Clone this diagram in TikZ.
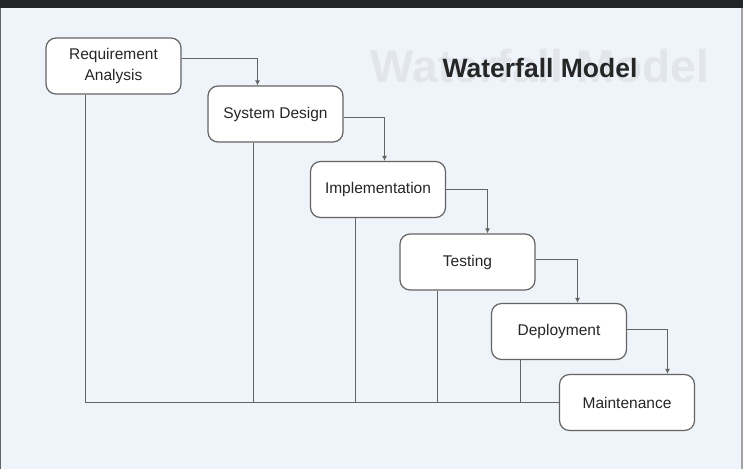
\documentclass[tikz,border=0pt]{standalone}
\usepackage{fontspec}
\setmainfont{Liberation Sans}
\usetikzlibrary{arrows.meta}
\pgfdeclarelayer{bg}
\pgfsetlayers{bg,main}
\definecolor{paper}{HTML}{EFF4FA}
\definecolor{edge}{HTML}{646464}
\definecolor{ink}{HTML}{262626}
\definecolor{ghost}{HTML}{E2E5E9}
\definecolor{topbar}{HTML}{232427}
\tikzset{
  phase/.style={draw=edge, fill=white, rounded corners=10pt, line width=1.2pt,
    minimum width=135pt, minimum height=56pt, align=center, text=ink,
    font=\fontsize{15.5}{21}\selectfont},
  flow/.style={draw=edge, line width=1.1pt, -{Latex[length=5pt,width=5pt]}},
  back/.style={draw=edge, line width=1.1pt},
}

\begin{document}
\begin{tikzpicture}[x=1pt,y=-1pt]
    \useasboundingbox (0,0) rectangle (743,469);
    \begin{pgfonlayer}{bg}    % page and frame
      \fill[paper] (0,0) rectangle (743,469);
      \fill[topbar] (0,0) rectangle (743,8);
      \draw[edge, line width=1.5pt] (0.5,8) -- (0.5,469);
      \draw[edge!60, line width=1.5pt] (742,8) -- (742,469);
    \end{pgfonlayer}

    \node [text=ghost, font=\fontsize{46}{46}\bfseries\selectfont] (shadow) at (540,66) {Waterfall Model};
    \node [text=ink, font=\fontsize{26.5}{26}\bfseries\selectfont] (title) at (540,68) {Waterfall Model};

    \node [phase] (req) at (113.5,66) {Requirement\\Analysis};
    \node [phase] (design) at (275.5,114) {System Design};
    \node [phase] (impl) at (378,189.5) {Implementation};
    \node [phase] (test) at (467.5,262) {Testing};
    \node [phase] (deploy) at (559,331.5) {Deployment};
    \node [phase] (maint) at (627,402.5) {Maintenance};

    \draw [flow] ([yshift=7.5pt]req.east) -| ([xshift=-18pt]design.north);
    \draw [flow] ([yshift=-3.5pt]design.east) -| ([xshift=6.5pt]impl.north);
    \draw [flow] (impl.east) -| ([xshift=20pt]test.north);
    \draw [flow] ([yshift=2.5pt]test.east) -| ([xshift=18.5pt]deploy.north);
    \draw [flow] ([yshift=2pt]deploy.east) -| ([xshift=40.5pt]maint.north);

    % lines back to the bottom
    \draw [back] ([xshift=-28pt]req.south) |- (maint.west);
    \draw [back] ([xshift=-22pt]design.south) -- ([xshift=-22pt]design.south |- maint.west);
    \draw [back] ([xshift=-22.5pt]impl.south) -- ([xshift=-22.5pt]impl.south |- maint.west);
    \draw [back] ([xshift=-30pt]test.south) -- ([xshift=-30pt]test.south |- maint.west);
    \draw [back] ([xshift=-38.5pt]deploy.south) -- ([xshift=-38.5pt]deploy.south |- maint.west);
\end{tikzpicture}
\end{document}
